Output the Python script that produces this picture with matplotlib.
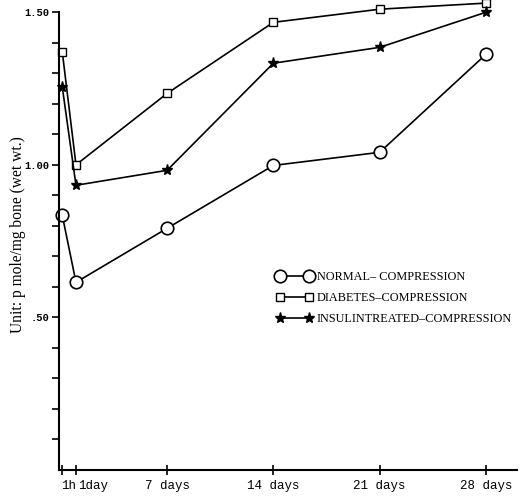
import matplotlib
matplotlib.use("Agg")
import matplotlib.pyplot as plt
import matplotlib.transforms as mtransforms
import numpy as np

# time points (days); 1h plotted just right of zero
days = [0.1, 1, 7, 14, 21, 28]
xlabels = ["1h", "1day", "7 days", "14 days", "21 days", "28 days"]

normal = [0.834, 0.615, 0.792, 0.998, 1.041, 1.362]
diabetes = [1.369, 1.000, 1.234, 1.467, 1.51, 1.53]
insulin = [1.254, 0.933, 0.982, 1.333, 1.385, 1.50]

fig = plt.figure(figsize=(5.28, 5.01), dpi=100)
ax = fig.add_axes([0.1117, 0.0619, 0.8673, 0.938])

ax.plot(days, normal, color="black", lw=1.2, marker="o", ms=9, mfc="white",
        mec="black", mew=1.2, clip_on=False, label="NORMAL\u2013 COMPRESSION")
ax.plot(days, diabetes, color="black", lw=1.2, marker="s", ms=6, mfc="white",
        mec="black", mew=1.0, clip_on=False, label="DIABETES\u2013COMPRESSION")
ax.plot(days, insulin, color="black", lw=1.2, marker="*", ms=8, mfc="black",
        mec="black", clip_on=False, label="INSULINTREATED\u2013COMPRESSION")

ax.set_xlim(-0.12, 30.04)
ax.set_ylim(0, 1.54)
ax.spines["top"].set_visible(False)
ax.spines["right"].set_visible(False)
ax.spines["left"].set_bounds(0, 1.5)
ax.spines["left"].set_linewidth(1.5)
ax.spines["bottom"].set_linewidth(1.5)

yt = np.round(np.arange(0.1, 1.51, 0.1), 2)
ylab = {0.5: ".50", 1.0: "1.00", 1.5: "1.50"}
ax.set_yticks(yt)
ax.set_yticklabels([ylab.get(v, "") for v in yt], family="Liberation Mono",
                   fontsize=7.5, fontweight="bold")
ax.tick_params(axis="y", direction="out", length=5, width=1.2, pad=2)

ax.set_xticks(days)
ax.set_xticklabels(xlabels, family="Liberation Mono", fontsize=9)
ax.tick_params(axis="x", direction="inout", length=7, width=1.2, pad=4)

# the two crowded labels at the left start at their ticks
lbls = ax.get_xticklabels()
lbls[0].set_ha("left")
lbls[0].set_transform(lbls[0].get_transform() +
                      mtransforms.ScaledTranslation(-0.01, 0, fig.dpi_scale_trans))
lbls[1].set_ha("left")
lbls[1].set_transform(lbls[1].get_transform() +
                      mtransforms.ScaledTranslation(0.02, 0, fig.dpi_scale_trans))

ax.set_ylabel("Unit: p mole/mg bone (wet wt.)", family="Liberation Serif",
              fontsize=11.2)
ax.yaxis.set_label_coords(-0.072, 0.5)

leg = ax.legend(loc="upper left", bbox_to_anchor=(0.465, 0.433), frameon=False,
                numpoints=2, handlelength=2.9, handletextpad=0.35,
                labelspacing=0.72, borderaxespad=0,
                prop={"family": "Liberation Serif", "size": 8.8})

fig.savefig("out.png", dpi=100)
